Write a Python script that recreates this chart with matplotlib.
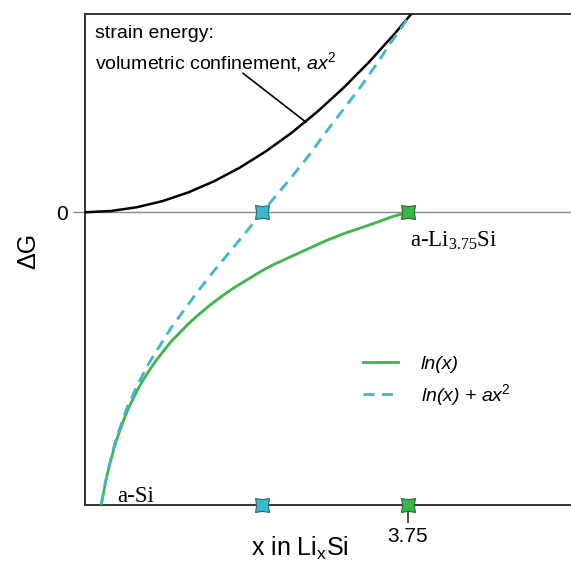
import matplotlib.pyplot as plt
from matplotlib.path import Path

plt.rcParams['font.family'] = ['Liberation Sans', 'DejaVu Sans']
plt.rcParams['mathtext.fontset'] = 'custom'
plt.rcParams['mathtext.rm'] = 'Liberation Serif'
plt.rcParams['mathtext.sf'] = 'Liberation Sans'
plt.rcParams['mathtext.it'] = 'Liberation Sans:italic'

# values (x in LixSi, dG in arbitrary units)
x_ln = [0.19, 0.22, 0.26, 0.30, 0.35, 0.40, 0.45, 0.50, 0.55, 0.60, 0.67,
        0.75, 0.82, 0.90, 1.00, 1.10, 1.20, 1.30, 1.45, 1.60, 1.75, 1.90,
        2.05, 2.20, 2.40, 2.60, 2.80, 3.00, 3.20, 3.40, 3.55, 3.75]
g_ln = [-2.98, -2.84, -2.67, -2.53, -2.37, -2.24, -2.12, -2.01, -1.92, -1.83,
        -1.72, -1.61, -1.52, -1.43, -1.32, -1.23, -1.14, -1.06, -0.95, -0.85,
        -0.76, -0.68, -0.60, -0.53, -0.45, -0.37, -0.29, -0.22, -0.16, -0.10,
        -0.05, 0.00]
x_sum = [0.19, 0.22, 0.26, 0.30, 0.35, 0.40, 0.45, 0.50, 0.55, 0.60, 0.67,
         0.75, 0.82, 0.90, 1.00, 1.10, 1.20, 1.30, 1.45, 1.60, 1.75, 1.90,
         2.05, 2.20, 2.40, 2.60, 2.80, 3.00, 3.20, 3.40, 3.55, 3.75, 3.80]
g_sum = [-2.98, -2.83, -2.66, -2.52, -2.35, -2.22, -2.09, -1.97, -1.88, -1.78,
         -1.66, -1.53, -1.43, -1.32, -1.18, -1.06, -0.94, -0.82, -0.65, -0.49,
         -0.33, -0.17, -0.01, 0.15, 0.36, 0.58, 0.82, 1.05, 1.28, 1.53, 1.73,
         1.98, 2.05]
x_strain = [0.0, 0.3, 0.6, 0.9, 1.2, 1.5, 1.8, 2.1, 2.4, 2.7, 3.0, 3.3, 3.6, 3.8]
g_strain = [0.0, 0.013, 0.051, 0.114, 0.203, 0.317, 0.457, 0.622, 0.812,
            1.028, 1.269, 1.535, 1.827, 2.036]

x_cross = 2.06    # where ln(x)+ax^2 crosses zero
x_full = 3.75     # a-Li3.75Si
xmax, ymin, ymax = 5.645, -2.99, 2.03

green = '#3cb54a'
cyan = '#3db8c8'

# square with slightly pinched sides, like the markers in the figure
pinch = Path([(1, 1), (0, 0.84), (-1, 1), (-0.84, 0), (-1, -1), (0, -0.84),
              (1, -1), (0.84, 0), (1, 1)],
             [Path.MOVETO] + [Path.LINETO] * 7 + [Path.CLOSEPOLY])

fig = plt.figure(figsize=(5.71, 5.63), dpi=100)
ax = fig.add_axes([0.1489, 0.103, 0.8511, 0.873])

ax.axhline(0, color='#8a8a8a', lw=1.0, zorder=1)
ax.plot(x_strain, g_strain, color='black', lw=1.8, zorder=3)
ax.plot(x_ln, g_ln, color=green, lw=2.0, label='ln(x)', zorder=3)
ax.plot(x_sum, g_sum, color=cyan, lw=2.0, ls=(0, (4.0, 2.6)),
        label='ln(x) + ax$^{\\mathsf{2}}$', zorder=4)

for xm, c, ec in [(x_cross, cyan, '#1f6a74'), (x_full, green, '#246b2c')]:
    ax.plot([xm, xm], [0, ymin], ls='none', marker=pinch, ms=10,
            mfc=c, mec=ec, mew=0.8, clip_on=False, zorder=6)

ax.set_xlim(0, xmax)
ax.set_ylim(ymin, ymax)

ax.set_xticks([x_full])
ax.set_xticklabels(['3.75'])
ax.set_xticks([x_full], minor=True)
ax.tick_params(axis='x', which='major', direction='out', length=13,
               width=1.2, pad=3, labelsize=15, color='#333333')
ax.tick_params(axis='x', which='minor', direction='in', length=9,
               width=1.2, color='#333333')
ax.set_yticks([0])
ax.set_yticklabels(['0'])
ax.tick_params(axis='y', direction='out', length=8.5, width=1.0,
               pad=4, labelsize=15, color='#8a8a8a')

for s in ['left', 'top', 'bottom']:
    ax.spines[s].set_linewidth(1.4)
    ax.spines[s].set_color('#333333')
ax.spines['right'].set_visible(False)

ax.set_xlabel('x in Li$_{\\mathsf{x}}$Si', fontsize=18)
ax.xaxis.set_label_coords(0.442, -0.06)
ax.set_ylabel('\u0394G', fontsize=18)
ax.yaxis.set_label_coords(-0.092, 0.517)

ax.text(0.12, 1.83, 'strain energy:', fontsize=14, va='center')
ax.text(0.12, 1.53, 'volumetric confinement, $\\mathit{ax}^{\\mathsf{2}}$',
        fontsize=14, va='center')
ax.plot([1.835, 2.567], [1.42, 0.92], color='black', lw=1.2)

ax.text(3.78, -0.29, 'a-Li$_{3.75}$Si', family='Liberation Serif',
        fontsize=16.5, va='center')
ax.text(0.38, -2.9, 'a-Si', family='Liberation Serif', fontsize=16.5,
        va='center')

ax.legend(loc='upper left', bbox_to_anchor=(0.535, 0.34), frameon=False,
          handlelength=1.8, handletextpad=1.2, labelspacing=0.45,
          prop={'style': 'italic', 'size': 14})

fig.savefig('out.png', dpi=100)
